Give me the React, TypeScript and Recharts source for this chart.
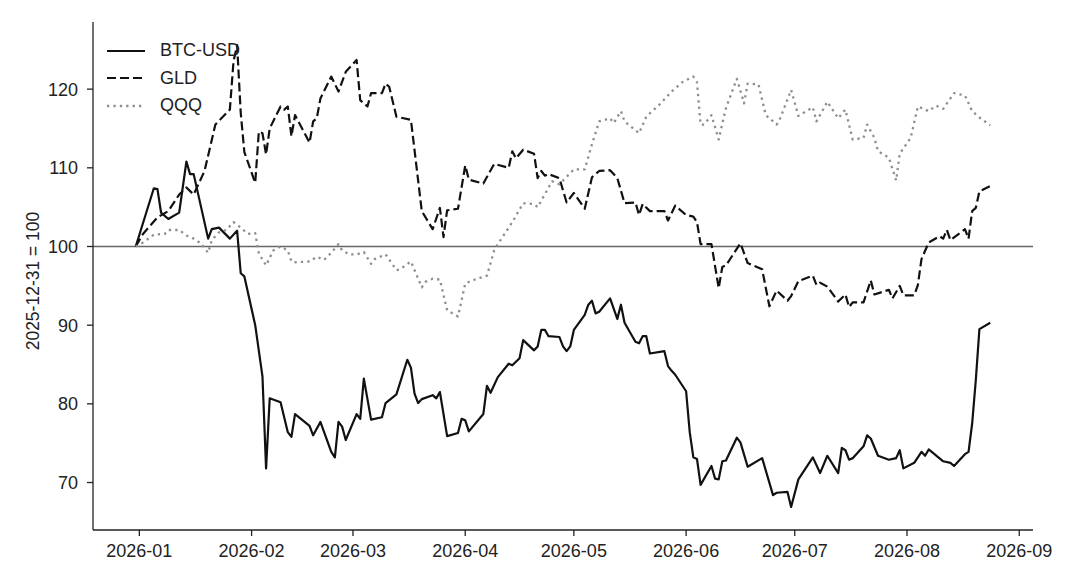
import React from 'react';
import { LineChart, Line, XAxis, YAxis, ReferenceLine, Legend } from 'recharts';

// dates and values (rebased, 2025-12-31 = 100)
const btcDates = [
  '2025-12-31', '2026-01-05', '2026-01-06', '2026-01-07', '2026-01-09', '2026-01-12', '2026-01-14', '2026-01-15',
  '2026-01-16', '2026-01-20', '2026-01-21', '2026-01-23', '2026-01-26', '2026-01-28', '2026-01-29', '2026-01-30',
  '2026-02-02', '2026-02-04', '2026-02-05', '2026-02-06', '2026-02-09', '2026-02-11', '2026-02-12', '2026-02-13',
  '2026-02-17', '2026-02-18', '2026-02-20', '2026-02-23', '2026-02-24', '2026-02-25', '2026-02-26', '2026-02-27',
  '2026-03-02', '2026-03-03', '2026-03-04', '2026-03-06', '2026-03-09', '2026-03-10', '2026-03-13', '2026-03-16', '2026-03-17',
  '2026-03-18', '2026-03-19', '2026-03-20', '2026-03-23', '2026-03-24', '2026-03-25', '2026-03-27', '2026-03-30', '2026-03-31',
  '2026-04-01', '2026-04-02', '2026-04-06', '2026-04-07', '2026-04-08', '2026-04-10', '2026-04-13', '2026-04-14', '2026-04-16', '2026-04-17',
  '2026-04-20', '2026-04-21', '2026-04-22', '2026-04-23', '2026-04-24', '2026-04-27', '2026-04-28', '2026-04-29', '2026-04-30',
  '2026-05-01', '2026-05-04', '2026-05-05', '2026-05-06', '2026-05-07', '2026-05-08', '2026-05-11', '2026-05-13', '2026-05-14', '2026-05-15',
  '2026-05-18', '2026-05-19', '2026-05-20', '2026-05-21', '2026-05-22', '2026-05-26', '2026-05-27', '2026-05-28', '2026-05-29',
  '2026-06-01', '2026-06-02', '2026-06-03', '2026-06-04', '2026-06-05', '2026-06-08', '2026-06-09', '2026-06-10', '2026-06-11',
  '2026-06-12', '2026-06-15', '2026-06-16', '2026-06-18', '2026-06-22', '2026-06-25', '2026-06-26', '2026-06-29', '2026-06-30',
  '2026-07-02', '2026-07-06', '2026-07-08', '2026-07-10', '2026-07-13', '2026-07-14', '2026-07-15', '2026-07-16', '2026-07-17',
  '2026-07-20', '2026-07-21', '2026-07-22', '2026-07-24', '2026-07-27', '2026-07-29', '2026-07-30', '2026-07-31',
  '2026-08-03', '2026-08-05', '2026-08-06', '2026-08-07', '2026-08-11', '2026-08-13', '2026-08-14', '2026-08-17', '2026-08-18',
  '2026-08-19', '2026-08-20', '2026-08-21', '2026-08-24',
];
const btcValues = [
  100, 107.4, 107.3, 104.3, 103.5, 104.3, 110.8, 109.2,
  109.2, 101.0, 102.2, 102.4, 101.0, 102.0, 96.6, 96.2,
  90.0, 83.5, 71.8, 80.7, 80.2, 76.4, 75.8, 78.7,
  77.2, 76.0, 77.7, 73.9, 73.2, 77.7, 77.1, 75.4,
  78.7, 78.1, 83.2, 78.0, 78.3, 80.1, 81.2, 85.6, 84.6,
  81.3, 80.1, 80.6, 81.1, 80.7, 81.5, 75.9, 76.3, 78.1,
  77.9, 76.5, 78.7, 82.3, 81.4, 83.4, 85.1, 84.9, 85.8, 88.1,
  86.8, 87.3, 89.4, 89.4, 88.6, 88.5, 87.3, 86.7, 87.3,
  89.4, 91.3, 92.6, 93.1, 91.5, 91.7, 93.4, 90.8, 92.6, 90.3,
  87.9, 87.7, 88.6, 88.6, 86.4, 86.7, 84.8, 84.2, 83.7,
  81.6, 76.4, 73.2, 73.0, 69.7, 72.1, 70.5, 70.4, 72.7,
  72.8, 75.7, 75.1, 72.0, 73.1, 68.4, 68.7, 68.8, 66.9,
  70.4, 73.2, 71.2, 73.4, 71.2, 74.4, 74.1, 72.9, 73.1,
  74.6, 76.0, 75.6, 73.4, 72.9, 73.1, 74.1, 71.8,
  72.5, 73.9, 73.4, 74.2, 72.7, 72.5, 72.1, 73.6, 73.9,
  77.5, 83.0, 89.5, 90.3,
];

const gldDates = [
  '2025-12-31', '2026-01-02', '2026-01-06', '2026-01-09', '2026-01-12', '2026-01-14', '2026-01-16',
  '2026-01-19', '2026-01-22', '2026-01-26', '2026-01-27', '2026-01-28', '2026-01-29', '2026-01-30',
  '2026-02-02', '2026-02-03', '2026-02-04', '2026-02-05', '2026-02-06', '2026-02-09', '2026-02-10', '2026-02-11', '2026-02-12',
  '2026-02-13', '2026-02-17', '2026-02-18', '2026-02-19', '2026-02-20', '2026-02-23', '2026-02-25', '2026-02-27',
  '2026-03-02', '2026-03-03', '2026-03-05', '2026-03-06', '2026-03-09', '2026-03-10', '2026-03-11', '2026-03-13',
  '2026-03-17', '2026-03-20', '2026-03-23', '2026-03-25', '2026-03-26', '2026-03-27', '2026-03-30',
  '2026-04-01', '2026-04-02', '2026-04-06', '2026-04-09', '2026-04-13', '2026-04-14', '2026-04-15', '2026-04-17',
  '2026-04-20', '2026-04-21', '2026-04-22', '2026-04-23', '2026-04-24', '2026-04-27', '2026-04-29',
  '2026-05-01', '2026-05-04', '2026-05-06', '2026-05-08', '2026-05-11', '2026-05-13', '2026-05-15',
  '2026-05-18', '2026-05-19', '2026-05-20', '2026-05-22', '2026-05-26', '2026-05-27', '2026-05-29',
  '2026-06-01', '2026-06-03', '2026-06-04', '2026-06-05', '2026-06-08', '2026-06-10', '2026-06-11', '2026-06-12',
  '2026-06-16', '2026-06-18', '2026-06-22', '2026-06-24', '2026-06-26', '2026-06-29', '2026-06-30',
  '2026-07-02', '2026-07-06', '2026-07-07', '2026-07-08', '2026-07-10', '2026-07-13', '2026-07-15', '2026-07-16',
  '2026-07-17', '2026-07-20', '2026-07-22', '2026-07-23', '2026-07-27', '2026-07-28', '2026-07-30', '2026-07-31',
  '2026-08-03', '2026-08-04', '2026-08-05', '2026-08-07', '2026-08-10', '2026-08-11', '2026-08-12',
  '2026-08-13', '2026-08-17', '2026-08-18', '2026-08-19', '2026-08-20', '2026-08-21', '2026-08-24',
];
const gldValues = [
  100, 101.6, 103.7, 104.5, 106.6, 107.5, 106.6,
  109.6, 115.5, 117.4, 123.5, 125.6, 117.0, 112.0,
  108.1, 114.6, 114.4, 111.7, 115.0, 117.8, 117.4, 117.8, 114.0,
  116.7, 113.2, 115.9, 116.3, 118.8, 121.6, 119.7, 122.2,
  123.7, 118.6, 117.8, 119.5, 119.5, 120.7, 120.3, 116.5,
  116.1, 104.5, 102.2, 104.9, 101.2, 104.6, 104.8,
  110.3, 108.5, 108.0, 110.5, 110.0, 112.1, 111.2, 112.3,
  111.8, 108.7, 109.6, 109.0, 109.2, 108.7, 105.6,
  106.8, 104.8, 108.8, 109.6, 109.7, 108.7, 105.5,
  105.6, 104.0, 105.4, 104.5, 104.5, 103.3, 105.2,
  104.0, 103.8, 103.1, 100.3, 100.3, 94.7, 97.4, 97.6,
  100.4, 97.9, 97.1, 92.4, 94.4, 93.1, 93.7,
  95.6, 96.3, 95.1, 95.4, 94.9, 93.0, 93.9, 92.3,
  92.9, 92.9, 95.7, 93.9, 94.5, 93.4, 95.0, 93.8,
  93.8, 95.1, 98.4, 100.5, 101.3, 101.0, 102.1,
  100.8, 102.2, 101.0, 104.5, 104.9, 107.0, 107.7,
];

const qqqDates = [
  '2025-12-31', '2026-01-02', '2026-01-05', '2026-01-08', '2026-01-09', '2026-01-12', '2026-01-14', '2026-01-16',
  '2026-01-18', '2026-01-20', '2026-01-21', '2026-01-23', '2026-01-25', '2026-01-27', '2026-01-29', '2026-01-31',
  '2026-02-02', '2026-02-03', '2026-02-05', '2026-02-07', '2026-02-09', '2026-02-11', '2026-02-12', '2026-02-13',
  '2026-02-17', '2026-02-19', '2026-02-21', '2026-02-23', '2026-02-25', '2026-02-26', '2026-02-28',
  '2026-03-02', '2026-03-04', '2026-03-06', '2026-03-07', '2026-03-10', '2026-03-13', '2026-03-14',
  '2026-03-17', '2026-03-20', '2026-03-21', '2026-03-23', '2026-03-25', '2026-03-27', '2026-03-30',
  '2026-04-01', '2026-04-03', '2026-04-05', '2026-04-07', '2026-04-09', '2026-04-10', '2026-04-14',
  '2026-04-17', '2026-04-20', '2026-04-21', '2026-04-25', '2026-04-27',
  '2026-05-01', '2026-05-04', '2026-05-06', '2026-05-08', '2026-05-11', '2026-05-12', '2026-05-14',
  '2026-05-15', '2026-05-19', '2026-05-21', '2026-05-25', '2026-05-28', '2026-05-31',
  '2026-06-03', '2026-06-04', '2026-06-05', '2026-06-06', '2026-06-08', '2026-06-10', '2026-06-12', '2026-06-15',
  '2026-06-16', '2026-06-17', '2026-06-18', '2026-06-21', '2026-06-23', '2026-06-26', '2026-06-27', '2026-06-30',
  '2026-07-02', '2026-07-06', '2026-07-07', '2026-07-10', '2026-07-13', '2026-07-15', '2026-07-17',
  '2026-07-20', '2026-07-21', '2026-07-23', '2026-07-24', '2026-07-27', '2026-07-29', '2026-07-30',
  '2026-08-02', '2026-08-04', '2026-08-07', '2026-08-09', '2026-08-11', '2026-08-14', '2026-08-17',
  '2026-08-19', '2026-08-21', '2026-08-24',
];
const qqqValues = [
  100, 100.5, 101.5, 101.6, 102.1, 102.1, 101.4, 101.0,
  100.4, 99.2, 100.8, 101.8, 102.1, 103.1, 102.4, 101.6,
  101.7, 99.1, 97.6, 99.5, 100.0, 99.5, 98.1, 98.0,
  98.1, 98.7, 98.3, 99.2, 100.3, 99.5, 99.0,
  99.0, 99.3, 97.8, 98.4, 99.0, 97.0, 97.1,
  98.1, 94.8, 95.5, 95.9, 95.8, 91.9, 91.1,
  95.3, 95.7, 96.0, 96.3, 99.5, 100.3, 103.1,
  105.5, 105.4, 105.0, 108.3, 107.9,
  109.8, 109.8, 113.0, 115.9, 116.3, 115.7, 117.2,
  115.9, 114.4, 116.5, 118.2, 119.7, 120.9,
  121.6, 120.9, 115.5, 115.5, 116.7, 113.6, 117.6, 121.3,
  119.8, 118.2, 120.7, 120.6, 116.7, 115.5, 116.3, 119.9,
  116.6, 117.7, 115.9, 118.4, 116.3, 117.4, 113.6,
  113.8, 115.5, 113.8, 112.1, 111.3, 108.4, 111.8,
  113.8, 117.8, 117.2, 117.9, 117.5, 119.5, 119.2,
  117.2, 116.4, 115.4,
];

const monthTicks = [
  '2026-01-01', '2026-02-01', '2026-03-01', '2026-04-01', '2026-05-01',
  '2026-06-01', '2026-07-01', '2026-08-01', '2026-09-01',
];
const yTicks = [70, 80, 90, 100, 110, 120];
const baseValue = 100;

const FONT = '"Liberation Sans", Arial, Helvetica, sans-serif';
const INK = '#222';

const toPoints = (dates: string[], values: number[]) =>
  dates.map((d, i) => ({ t: Date.parse(d), v: values[i] }));

const series = [
  { name: 'BTC-USD', data: toPoints(btcDates, btcValues), stroke: '#111', width: 2.2, dash: undefined as string | undefined },
  { name: 'GLD', data: toPoints(gldDates, gldValues), stroke: '#111', width: 2.2, dash: '9 4' },
  { name: 'QQQ', data: toPoints(qqqDates, qqqValues), stroke: '#8e8e8e', width: 2.3, dash: '2.3 4.1' },
];

// matplotlib-like 5% margins around the data
const allT = series.flatMap((s) => s.data.map((p) => p.t));
const allV = series.flatMap((s) => s.data.map((p) => p.v));
const tMin = Math.min(...allT);
const tMax = Math.max(...allT);
const vMin = Math.min(...allV);
const vMax = Math.max(...allV);
const xDomain = [tMin - (tMax - tMin) * 0.05, tMax + (tMax - tMin) * 0.05];
const yDomain = [vMin - (vMax - vMin) * 0.05, vMax + (vMax - vMin) * 0.05];

const fmtMonth = (t: number) => {
  const d = new Date(t);
  return `${d.getUTCFullYear()}-${String(d.getUTCMonth() + 1).padStart(2, '0')}`;
};

function LegendBox() {
  return (
    <div style={{ fontFamily: FONT, fontSize: 18, color: INK }}>
      {series.map((s) => (
        <div key={s.name} style={{ display: 'flex', alignItems: 'center', height: 27.5 }}>
          <svg width={38} height={6} style={{ marginRight: 15 }}>
            <line x1={0} y1={3} x2={38} y2={3} stroke={s.stroke} strokeWidth={s.width} strokeDasharray={s.dash} />
          </svg>
          <span>{s.name}</span>
        </div>
      ))}
    </div>
  );
}

export default function App() {
  return (
    <div style={{ position: 'relative', width: 1064, height: 571, background: '#fff' }}>
      <LineChart width={1064} height={571} margin={{ top: 14, right: 39, bottom: 19, left: 0 }}>
        <XAxis
          type="number"
          dataKey="t"
          domain={xDomain}
          allowDataOverflow
          ticks={monthTicks.map((d) => Date.parse(d))}
          tickFormatter={fmtMonth}
          height={30}
          axisLine={{ stroke: INK, strokeWidth: 1.3 }}
          tickLine={{ stroke: INK, strokeWidth: 1.3 }}
          tickSize={6}
          tickMargin={8}
          tick={{ fill: INK, fontSize: 18, fontFamily: FONT }}
        />
        <YAxis
          type="number"
          domain={yDomain}
          allowDataOverflow
          ticks={yTicks}
          width={85}
          axisLine={{ stroke: INK, strokeWidth: 1.3 }}
          tickLine={{ stroke: INK, strokeWidth: 1.3 }}
          tickSize={6}
          tickMargin={9}
          tick={{ fill: INK, fontSize: 18, fontFamily: FONT }}
        />
        <ReferenceLine y={baseValue} stroke="#666" strokeWidth={1.3} />
        {series.map((s) => (
          <Line
            key={s.name}
            data={s.data}
            dataKey="v"
            name={s.name}
            type="linear"
            stroke={s.stroke}
            strokeWidth={s.width}
            strokeDasharray={s.dash}
            strokeLinejoin="round"
            dot={false}
            activeDot={false}
            isAnimationActive={false}
          />
        ))}
        <Legend
          content={<LegendBox />}
          layout="vertical"
          align="center"
          verticalAlign="middle"
          wrapperStyle={{ left: 99, top: 29, width: 'auto' }}
        />
      </LineChart>
      <div
        style={{
          position: 'absolute',
          left: 25,
          top: 273,
          transform: 'translate(-50%, -50%) rotate(-90deg)',
          whiteSpace: 'nowrap',
          fontFamily: FONT,
          fontSize: 17.5,
          color: INK,
        }}
      >
        2025-12-31 = 100
      </div>
    </div>
  );
}
